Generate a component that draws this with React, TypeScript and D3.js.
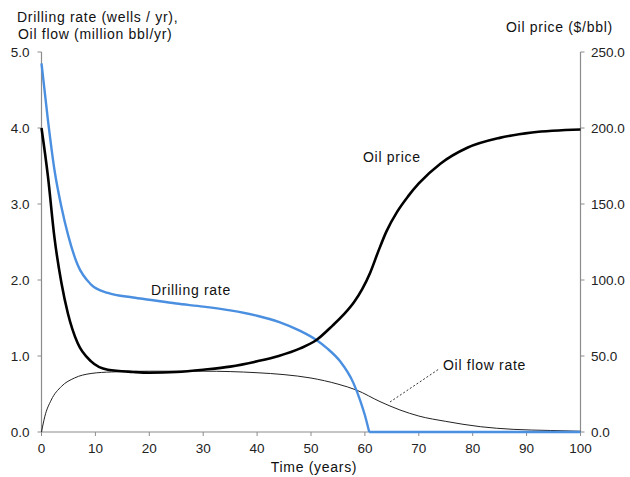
import React from "react";
import * as d3 from "d3";

// Time (years) and values
const priceYears = [0, 1.2, 2.4, 3.7, 4.9, 6.7, 9.2, 12.3, 17, 20, 25, 30, 35, 40, 44, 48, 51, 54, 56, 58, 59.5, 61, 62.5, 64, 66, 68, 70, 74, 79, 85, 91, 100];
const oilPrice = [200, 168, 128, 98, 78, 58.5, 46.5, 41, 39.5, 39, 39.5, 41, 43, 46.5, 50, 55, 60.5, 70, 77, 85.5, 94, 105, 119, 132, 145, 155, 163.5, 176.5, 187, 193.5, 197, 199];

const drillYears = [0, 1.2, 2.4, 3.7, 4.9, 6.7, 9.2, 12.3, 17, 20, 25, 30, 35, 40, 44, 48, 51, 53, 55.4, 57.9, 59.1, 60, 60.8];
const drillingRate = [4.85, 4.1, 3.45, 2.96, 2.6, 2.2, 1.94, 1.83, 1.77, 1.74, 1.69, 1.65, 1.6, 1.53, 1.45, 1.33, 1.21, 1.1, 0.93, 0.64, 0.42, 0.22, 0];
const drillTailYears = [60.8, 100];
const drillTail = [0, 0];

const flowYears = [0, 0.6, 1.8, 3.7, 6.1, 9.2, 13, 20, 30, 40, 45, 50, 55, 58.5, 62.8, 66.5, 70, 75, 81.4, 87.5, 94.4, 100];
const oilFlow = [0, 0.2, 0.42, 0.6, 0.71, 0.77, 0.79, 0.8, 0.8, 0.78, 0.755, 0.71, 0.63, 0.55, 0.4, 0.29, 0.21, 0.14, 0.07, 0.035, 0.02, 0.01];

const xTicks = [0, 10, 20, 30, 40, 50, 60, 70, 80, 90, 100];
const leftTicks = [0, 1, 2, 3, 4, 5];
const rightTicks = [0, 50, 100, 150, 200, 250];

const W = 630;
const H = 477;
const FONT = "'Liberation Sans', Arial, sans-serif";
const AXIS = "#8c8c8c";
const BLUE = "#4a8fe0";
const LS = 0.7; // letter spacing for labels

export default function App() {
  const x = d3.scaleLinear().domain([0, 100]).range([41.5, 580.5]);
  const yL = d3.scaleLinear().domain([0, 5]).range([432, 52]);
  const yR = d3.scaleLinear().domain([0, 250]).range([432, 52]);

  const pts = (xs: number[], ys: number[]) => xs.map((t, i) => [t, ys[i]] as [number, number]);

  const lineL = d3
    .line<[number, number]>()
    .x((d) => x(d[0]))
    .y((d) => yL(d[1]))
    .curve(d3.curveMonotoneX);
  const lineR = d3
    .line<[number, number]>()
    .x((d) => x(d[0]))
    .y((d) => yR(d[1]))
    .curve(d3.curveMonotoneX);

  return (
    <svg
      width={W}
      height={H}
      style={{ position: "absolute", left: 0, top: 0, background: "#fff" }}
      fontFamily={FONT}
    >
      {/* axis titles */}
      <g fontSize={14} fill="#111" letterSpacing={LS}>
        <text x={17} y={22}>Drilling rate (wells / yr),</text>
        <text x={18} y={39}>Oil flow (million bbl/yr)</text>
        <text x={506} y={32}>Oil price ($/bbl)</text>
        <text x={314} y={472} textAnchor="middle">Time (years)</text>
      </g>

      {/* left axis */}
      <line x1={x(0)} x2={x(0)} y1={yL(5)} y2={yL(0)} stroke={AXIS} strokeWidth={1.2} />
      {leftTicks.map((v) => (
        <g key={"l" + v}>
          <line x1={x(0) - 4} x2={x(0)} y1={yL(v)} y2={yL(v)} stroke={AXIS} />
          <text x={29.5} y={yL(v)} dy="0.35em" fontSize={13.5} textAnchor="end" fill="#222">
            {v.toFixed(1)}
          </text>
        </g>
      ))}

      {/* right axis */}
      <line x1={x(100)} x2={x(100)} y1={yR(250)} y2={yR(0)} stroke={AXIS} strokeWidth={1.2} />
      {rightTicks.map((v) => (
        <g key={"r" + v}>
          <line x1={x(100)} x2={x(100) + 4} y1={yR(v)} y2={yR(v)} stroke={AXIS} />
          <text x={591} y={yR(v)} dy="0.35em" fontSize={13.5} fill="#222">
            {v.toFixed(1)}
          </text>
        </g>
      ))}

      {/* bottom axis */}
      <line x1={x(0)} x2={x(100)} y1={yL(0)} y2={yL(0)} stroke={AXIS} strokeWidth={1.2} />
      {xTicks.map((t) => (
        <g key={"x" + t}>
          <line x1={x(t)} x2={x(t)} y1={yL(0)} y2={yL(0) + 4} stroke={AXIS} />
          <text x={x(t)} y={448} dy="0.35em" fontSize={13.5} textAnchor="middle" fill="#222">
            {t}
          </text>
        </g>
      ))}

      {/* oil flow rate */}
      <path d={lineL(pts(flowYears, oilFlow)) || ""} fill="none" stroke="#222" strokeWidth={1} />

      {/* drilling rate */}
      <path d={lineL(pts(drillYears, drillingRate)) || ""} fill="none" stroke={BLUE} strokeWidth={2.4} />
      <path d={lineL(pts(drillTailYears, drillTail)) || ""} fill="none" stroke={BLUE} strokeWidth={2.4} />

      {/* oil price */}
      <path d={lineR(pts(priceYears, oilPrice)) || ""} fill="none" stroke="#000" strokeWidth={2.6} />

      {/* labels */}
      <g fontSize={14} fill="#111" letterSpacing={LS}>
        <text x={151} y={295}>Drilling rate</text>
        <text x={363} y={162}>Oil price</text>
        <text x={443} y={370}>Oil flow rate</text>
      </g>
      <line x1={390} y1={402} x2={439} y2={369} stroke="#333" strokeWidth={1} strokeDasharray="2,2" />
    </svg>
  );
}
